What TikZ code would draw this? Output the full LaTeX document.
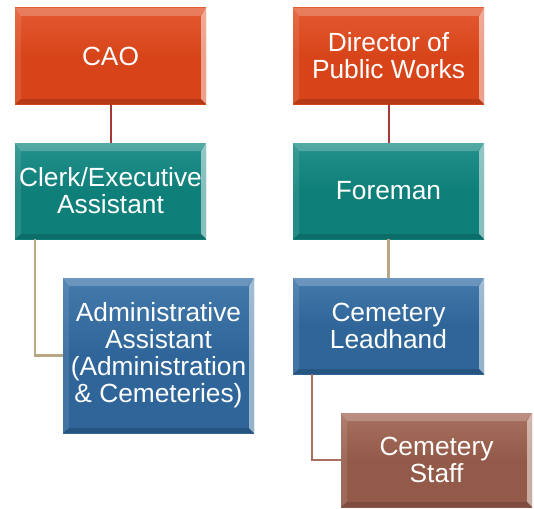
\documentclass[tikz,border=0pt]{standalone}
\usepackage{fontspec}
\setmainfont{Liberation Sans}
\usetikzlibrary{calc}
\definecolor{cOrange}{HTML}{D8441A}
\definecolor{cOrangeT}{HTML}{E35A32}
\definecolor{cTeal}{HTML}{0F7F7A}
\definecolor{cTealT}{HTML}{23918B}
\definecolor{cBlue}{HTML}{2F6598}
\definecolor{cBlueT}{HTML}{4379AB}
\definecolor{cBrown}{HTML}{935A4A}
\definecolor{cBrownT}{HTML}{A8705F}
\definecolor{lRed}{HTML}{A43A33}
\definecolor{lTan}{HTML}{B9A685}
\definecolor{lBrown}{HTML}{A86F60}
\tikzset{
  orgbox/.style={draw=none, inner sep=0pt, align=center, text=white,
    font=\fontsize{26.3}{27}\selectfont, minimum width=191pt, minimum height=96pt,
    path picture={
      \fill[white,opacity=0.22] (path picture bounding box.north west) -- (path picture bounding box.north east)
        -- ([xshift=-6pt,yshift=-8pt]path picture bounding box.north east) -- ([xshift=6pt,yshift=-8pt]path picture bounding box.north west) -- cycle;
      \fill[white,opacity=0.5] (path picture bounding box.north east) -- (path picture bounding box.south east)
        -- ([xshift=-5pt,yshift=5pt]path picture bounding box.south east) -- ([xshift=-5pt,yshift=-8pt]path picture bounding box.north east) -- cycle;
      \fill[black,opacity=0.15] (path picture bounding box.south east) -- (path picture bounding box.south west)
        -- ([xshift=6pt,yshift=5pt]path picture bounding box.south west) -- ([xshift=-5pt,yshift=5pt]path picture bounding box.south east) -- cycle;
      \fill[white,opacity=0.1] (path picture bounding box.south west) -- (path picture bounding box.north west)
        -- ([xshift=6pt,yshift=-8pt]path picture bounding box.north west) -- ([xshift=6pt,yshift=5pt]path picture bounding box.south west) -- cycle;
    }},
  orangebox/.style={orgbox, top color=cOrangeT, bottom color=cOrange, middle color=cOrange},
  tealbox/.style={orgbox, top color=cTealT, bottom color=cTeal, middle color=cTeal},
  bluebox/.style={orgbox, top color=cBlueT, bottom color=cBlue, middle color=cBlue},
  brownbox/.style={orgbox, top color=cBrownT, bottom color=cBrown, middle color=cBrown},
  redline/.style={draw=lRed, line width=2pt},
  tanline/.style={draw=lTan, line width=2.5pt},
  brownline/.style={draw=lBrown, line width=2.5pt},
}
\begin{document}
\begin{tikzpicture}[x=1pt,y=-1pt]
\useasboundingbox (0,0) rectangle (534,508);
\node[orangebox] (cao) at (110.5,56) {CAO};
\node[tealbox] (clerk) at (110.5,191) {Clerk/Executive\\Assistant};
\node[bluebox, minimum width=191pt, minimum height=155pt] (admin) at (158.5,355.5) {Administrative\\Assistant\\(Administration\\\& Cemeteries)};
\node[orangebox] (dir) at (388.5,56) {Director of\\Public Works};
\node[tealbox] (fore) at (388.5,191) {Foreman};
\node[bluebox] (lead) at (388.5,326) {Cemetery\\Leadhand};
\node[brownbox, minimum height=94pt] (staff) at (436.5,460) {Cemetery\\Staff};
\draw[redline] (cao) -- (clerk);
\draw[redline] (dir) -- (fore);
\draw[tanline] (fore) -- (lead);
\draw[tanline] ([xshift=20pt]clerk.south west) |- (admin.west);
\draw[brownline] ([xshift=19pt]lead.south west) |- (staff.west);
\end{tikzpicture}
\end{document}
